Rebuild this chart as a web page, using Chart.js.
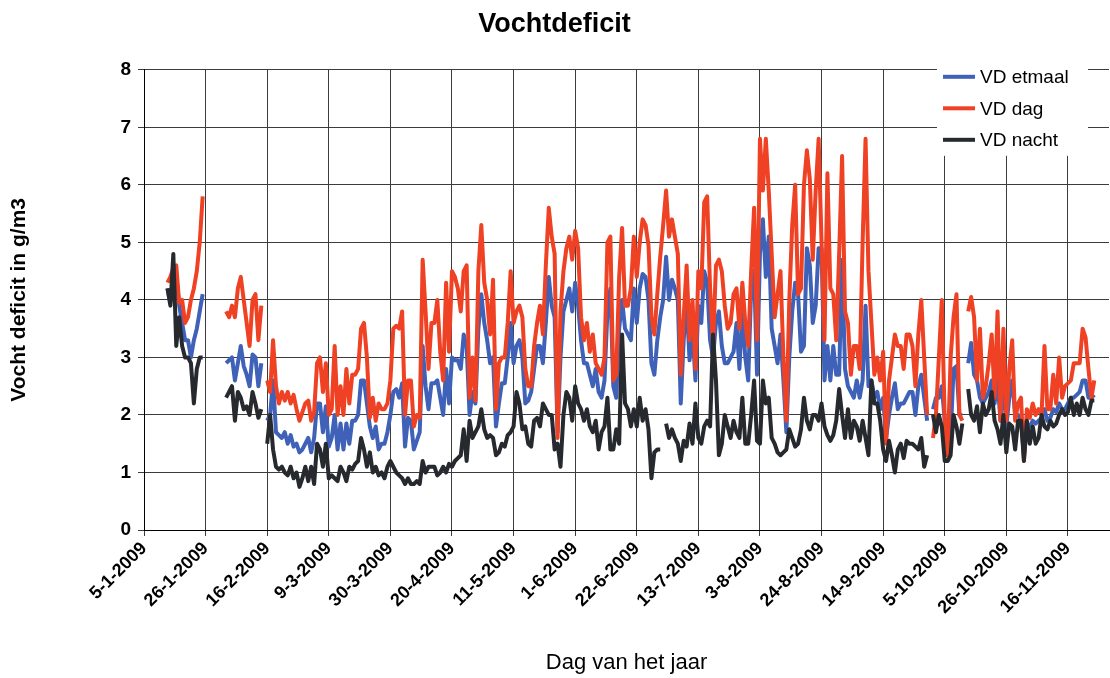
<!DOCTYPE html>
<html><head><meta charset="utf-8">
<script src="https://cdn.jsdelivr.net/npm/chart.js@4.4.1/dist/chart.umd.min.js"></script>
<style>html,body{margin:0;padding:0;background:#fff;}</style>
</head><body>
<canvas id="c" width="1110" height="678"></canvas>
<script>
// day index 0 = 5-1-2009; first value belongs to day index firstDay
const firstDay = 8;
const tickStep = 21;
const tickLabels = ['5-1-2009','26-1-2009','16-2-2009','9-3-2009','30-3-2009','20-4-2009','11-5-2009','1-6-2009',
  '22-6-2009','13-7-2009','3-8-2009','24-8-2009','14-9-2009','5-10-2009','26-10-2009','16-11-2009'];
const seriesNames = ['VD etmaal','VD dag','VD nacht'];
const N = null;
const vdEtmaal = [
4.2,3.95,4.3,4.4,3.9,3.6,3.3,3.3,3.0,3.3,
3.5,3.8,4.1,N,N,N,N,N,N,N,
2.9,2.95,3.0,2.6,2.9,3.2,2.85,2.7,2.5,3.05,
3.0,2.5,2.9,N,1.9,2.0,2.6,1.7,1.65,1.6,
1.7,1.5,1.65,1.45,1.5,1.35,1.4,1.5,1.6,1.35,
1.6,2.2,2.2,1.7,2.15,1.45,1.6,2.0,1.4,1.85,
1.4,1.85,1.5,1.9,1.9,2.0,2.6,2.6,2.2,1.8,
1.6,1.8,1.4,1.5,1.5,1.7,2.0,2.4,2.45,2.3,
2.55,1.45,1.95,1.9,1.4,1.55,1.7,3.2,2.5,2.1,
2.55,2.55,2.6,2.3,2.0,2.8,2.2,3.0,2.95,2.95,
2.8,3.4,3.2,2.0,2.4,2.2,3.5,4.1,3.6,3.3,
2.9,3.0,1.8,2.2,2.55,2.55,3.0,3.6,2.9,3.2,
3.3,3.0,2.2,2.25,2.4,2.8,3.2,3.2,2.9,3.6,
4.4,3.9,3.7,1.7,3.0,3.8,4.0,4.2,3.8,4.3,
3.9,3.3,2.9,2.9,2.7,2.5,2.8,2.4,2.3,2.6,
3.8,4.2,2.5,2.3,3.5,4.0,3.5,3.4,3.3,4.2,
3.6,4.2,4.45,4.4,4.0,2.9,2.7,3.3,3.7,4.0,
4.75,4.0,4.35,4.2,4.0,2.2,3.3,4.0,2.95,3.5,
2.6,3.9,3.6,4.5,4.3,3.3,3.0,3.6,3.8,3.2,
2.9,2.9,3.0,3.1,3.6,2.8,3.8,3.0,2.6,4.2,
4.5,2.7,4.8,5.4,4.4,5.1,3.5,3.2,2.9,3.4,
2.6,1.7,3.0,3.8,4.3,4.1,3.1,3.2,4.9,4.6,
3.6,3.9,4.9,4.9,2.6,3.2,2.6,3.2,2.7,2.7,
4.7,2.8,2.5,2.4,2.3,2.6,2.3,2.6,3.9,2.5,
2.6,2.3,2.4,2.1,2.3,1.6,2.0,2.3,2.55,2.1,
2.2,2.2,2.3,2.4,2.4,2.0,2.5,2.7,2.3,1.9,
N,2.1,2.3,2.3,2.5,1.9,1.5,1.6,2.8,2.85,
2.0,2.0,N,2.9,3.25,2.7,2.6,2.3,2.2,2.3,
2.4,2.6,2.2,2.6,1.9,2.6,1.8,2.3,2.6,2.0,
2.0,1.9,1.3,1.75,1.8,1.9,1.85,1.9,1.95,2.1,
1.9,1.95,2.1,2.05,2.2,2.1,2.1,2.2,2.3,2.3,
2.35,2.4,2.6,2.6,2.3,2.3,2.35];
const vdDag = [
4.3,4.4,4.55,4.6,3.95,4.0,3.6,3.7,4.0,4.2,
4.5,5.0,5.8,N,N,N,N,N,N,N,
3.8,3.7,3.9,3.7,4.2,4.4,4.0,3.6,3.2,4.0,
4.1,3.3,3.9,N,2.6,2.4,3.3,2.5,2.2,2.4,
2.25,2.4,2.2,2.35,2.1,1.9,2.05,2.2,2.25,1.9,
2.05,2.9,3.0,2.4,2.9,2.0,2.1,3.2,2.0,2.5,
2.0,2.8,2.2,2.7,2.7,2.8,3.5,3.6,3.0,1.95,
2.3,1.9,2.2,2.1,2.1,2.2,2.6,3.5,3.55,3.5,
3.8,2.0,2.6,2.6,1.8,2.0,1.95,4.7,3.8,2.8,
3.6,3.6,4.0,3.1,2.6,4.3,3.1,4.5,4.4,4.2,
3.8,4.5,4.6,2.3,3.0,2.25,4.5,5.3,4.3,4.0,
3.4,4.35,2.1,2.9,3.0,3.0,3.6,4.5,3.6,3.8,
3.9,3.7,2.8,2.5,2.5,3.2,3.6,3.9,3.4,4.6,
5.6,5.1,4.8,1.6,3.8,4.5,4.9,5.1,4.7,5.2,
4.9,3.7,3.3,3.6,3.1,3.4,2.9,2.8,2.7,3.0,
5.0,5.1,2.6,2.7,4.4,5.25,3.9,3.9,4.2,5.1,
4.4,5.0,5.4,5.3,4.95,3.7,3.4,4.1,4.75,5.3,
5.9,5.1,5.4,5.1,4.8,2.7,3.7,4.6,3.3,4.0,
2.8,4.5,4.2,5.7,5.8,4.2,3.2,4.6,4.7,4.5,
3.9,3.5,3.6,4.1,4.2,3.5,4.3,3.6,3.2,4.5,
5.6,3.3,6.8,5.9,6.8,5.9,4.8,3.7,4.1,4.5,
3.0,1.9,4.0,5.3,6.0,4.1,4.2,6.0,6.6,6.1,
4.7,5.9,6.8,5.0,3.3,6.2,4.2,4.1,3.3,4.8,
6.5,3.8,3.6,2.7,3.2,3.2,2.8,5.0,6.8,4.5,
3.6,2.7,3.0,2.6,3.1,1.5,2.6,3.0,3.4,3.2,
3.2,2.8,3.4,3.4,3.2,2.5,3.4,4.0,3.0,2.0,
N,1.6,2.0,3.0,4.0,1.9,1.3,3.0,3.7,4.1,
2.0,1.9,N,3.8,4.05,3.7,2.6,3.5,2.3,2.5,
2.9,3.4,2.3,3.8,1.9,3.5,1.9,2.8,3.3,1.9,
2.2,2.3,1.2,2.1,1.95,2.2,2.0,2.1,2.0,3.2,
2.1,2.1,2.7,2.2,3.0,2.3,2.5,2.55,2.6,2.9,
2.9,2.9,3.5,3.35,2.8,2.3,2.6];
const vdNacht = [
4.2,3.9,4.8,3.2,3.7,3.2,3.0,3.0,2.9,2.2,
2.8,3.0,3.0,N,N,N,N,N,N,N,
2.3,2.4,2.5,1.9,2.4,2.3,2.1,2.15,2.0,2.4,
2.2,1.95,2.1,N,1.5,2.0,1.4,1.1,1.05,1.1,
1.0,0.95,1.1,0.9,1.0,0.75,0.9,1.1,0.85,1.1,
0.8,1.5,1.4,1.1,1.5,0.9,0.95,0.9,0.85,1.1,
1.0,0.85,1.1,1.05,1.15,1.2,1.6,1.4,1.1,1.35,
1.0,1.1,0.95,1.0,0.9,1.1,1.2,1.1,1.0,0.95,
0.9,0.8,0.9,0.8,0.8,0.85,0.8,1.2,1.0,1.1,
1.1,1.1,0.95,1.0,1.1,1.0,1.15,1.1,1.2,1.25,
1.3,1.75,1.2,1.9,1.6,1.7,1.8,2.1,1.75,1.6,
1.65,1.6,1.3,1.35,1.5,1.45,1.65,1.7,1.8,2.4,
2.2,1.75,1.8,1.5,1.45,1.9,1.95,1.8,2.2,2.1,
2.0,2.0,1.4,1.5,1.1,2.0,2.4,2.3,1.9,2.5,
2.2,2.1,1.9,2.1,1.8,1.7,1.9,1.4,1.7,1.8,
2.3,1.4,1.4,1.75,1.5,3.4,2.2,2.1,1.8,2.1,
1.8,2.3,1.9,2.1,1.75,0.9,1.35,1.4,1.4,N,
1.85,1.6,1.75,1.6,1.5,1.2,1.55,1.45,1.85,1.5,
2.2,1.6,1.5,1.8,1.9,1.8,3.4,2.6,1.3,1.5,
2.0,1.8,1.6,1.9,1.7,1.6,2.3,1.5,1.5,2.0,
2.6,1.55,1.5,2.6,2.2,2.3,1.6,1.5,1.35,1.3,
1.35,1.4,1.75,1.6,1.45,1.5,1.75,2.3,1.9,1.75,
2.0,2.0,1.9,2.2,1.8,1.65,1.55,1.65,1.9,2.45,
2.0,1.6,2.1,1.6,1.9,1.8,1.55,1.9,1.6,1.3,
2.6,2.2,2.2,1.9,1.4,1.2,1.55,1.3,1.0,1.4,
1.5,1.25,1.55,1.5,1.5,1.45,1.4,1.6,1.1,1.3,
N,2.0,1.7,2.0,1.8,1.2,1.2,1.3,2.0,1.8,
1.5,1.85,N,2.45,2.0,1.9,2.15,1.7,2.2,2.0,
2.1,2.4,1.9,1.75,1.5,2.0,1.35,1.85,1.8,1.4,
1.9,1.9,1.2,1.9,1.5,1.8,1.5,1.6,2.0,1.8,
1.75,1.9,1.8,1.85,2.0,2.1,2.0,2.05,2.3,2.0,
2.2,2.0,2.3,2.1,2.0,2.25,2.25];

const colors = ['#3f62b8','#ef4123','#262a2e'];
const FONT = "'Liberation Sans', Arial, sans-serif";
const toPoints = arr => arr.map((v, k) => ({x: firstDay + k, y: v}));

const boxLegend = {
  id: 'boxLegend',
  afterDraw(chart) {
    const {ctx, chartArea} = chart;
    const right = chartArea.right - 21;
    const left = right - 151;
    const top = chartArea.top - 8;
    ctx.save();
    ctx.fillStyle = '#ffffff';
    ctx.fillRect(left, top, right - left, 94);
    chart.data.datasets.forEach((ds, k) => {
      const y = top + 15 + k * 31.5;
      ctx.strokeStyle = ds.borderColor;
      ctx.lineWidth = 4;
      ctx.beginPath();
      ctx.moveTo(left + 6, y);
      ctx.lineTo(left + 38, y);
      ctx.stroke();
      ctx.fillStyle = '#000';
      ctx.font = '19px ' + FONT;
      ctx.textBaseline = 'middle';
      ctx.textAlign = 'left';
      ctx.fillText(ds.label, left + 43, y + 1);
    });
    ctx.restore();
  }
};

new Chart(document.getElementById('c'), {
  type: 'line',
  data: {
    datasets: [
      {label: seriesNames[0], data: toPoints(vdEtmaal), borderColor: colors[0], order: 3},
      {label: seriesNames[1], data: toPoints(vdDag), borderColor: colors[1], order: 2},
      {label: seriesNames[2], data: toPoints(vdNacht), borderColor: colors[2], order: 1}
    ]
  },
  options: {
    responsive: false,
    animation: false,
    devicePixelRatio: 1,
    layout: {padding: {left: 0, right: 1, top: 0, bottom: 0}},
    elements: {
      line: {borderWidth: 4, tension: 0, borderJoinStyle: 'round', borderCapStyle: 'butt', fill: false},
      point: {radius: 0, hoverRadius: 0}
    },
    plugins: {
      legend: {display: false},
      tooltip: {enabled: false},
      title: {
        display: true, text: 'Vochtdeficit', color: '#000',
        font: {family: FONT, size: 27, weight: 'bold'},
        padding: {top: 8, bottom: 29.4}
      }
    },
    scales: {
      x: {
        type: 'linear', min: 0, max: 329,
        afterBuildTicks: s => { s.ticks = tickLabels.map((_, k) => ({value: k * tickStep})); },
        afterFit: s => { s.height = 148; },
        ticks: {
          autoSkip: false, maxRotation: 45, minRotation: 45, padding: 2,
          color: '#000', font: {family: FONT, size: 18, weight: 'bold'},
          callback: v => tickLabels[Math.round(v / tickStep)]
        },
        grid: {color: '#3c3c3c', lineWidth: 1, tickLength: 6, drawTicks: true},
        border: {color: '#000', width: 1},
        title: {
          display: true, text: 'Dag van het jaar', color: '#000',
          font: {family: FONT, size: 22}, padding: {top: 4, bottom: 2}
        }
      },
      y: {
        min: 0, max: 8,
        afterFit: s => { s.width = 144; },
        ticks: {stepSize: 1, padding: 7, color: '#000', font: {family: FONT, size: 19, weight: 'bold'}},
        grid: {color: '#3c3c3c', lineWidth: 1, tickLength: 6},
        border: {color: '#000', width: 1},
        title: {
          display: true, text: 'Vocht deficit in g/m3', color: '#000',
          font: {family: FONT, size: 21, weight: 'bold'}, padding: {top: 7, bottom: 0}
        }
      }
    }
  },
  plugins: [boxLegend]
});
</script>
</body></html>
